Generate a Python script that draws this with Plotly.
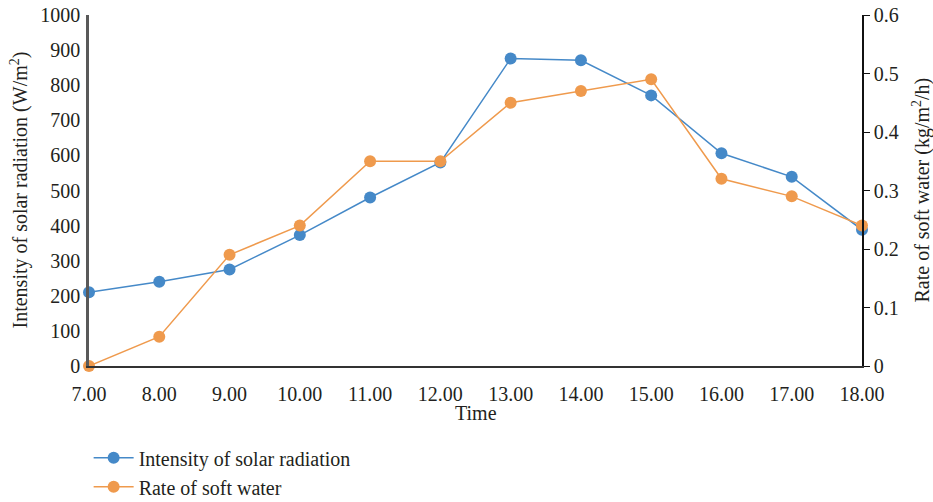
import plotly.graph_objects as go

hours = [7, 8, 9, 10, 11, 12, 13, 14, 15, 16, 17, 18]
hour_labels = ["7.00", "8.00", "9.00", "10.00", "11.00", "12.00",
               "13.00", "14.00", "15.00", "16.00", "17.00", "18.00"]
solar_radiation = [210, 240, 275, 373, 480, 580, 876, 871, 771, 606, 539, 388]
soft_water_rate = [0.0, 0.05, 0.19, 0.24, 0.35, 0.35, 0.45, 0.47, 0.49, 0.32, 0.29, 0.24]

blue = "#4589C8"
orange = "#EF9A4D"
text_color = "#231F20"
font_family = "Liberation Serif"
tick_size = 20
title_size = 20

fig = go.Figure()
fig.add_trace(go.Scatter(
    x=hours, y=solar_radiation, name="Intensity of solar radiation",
    mode="lines+markers", line=dict(color=blue, width=1.5),
    marker=dict(color=blue, size=12), cliponaxis=False, yaxis="y"))
fig.add_trace(go.Scatter(
    x=hours, y=soft_water_rate, name="Rate of soft water",
    mode="lines+markers", line=dict(color=orange, width=1.5),
    marker=dict(color=orange, size=12), cliponaxis=False, yaxis="y2"))

# axis titles placed as annotations so the plot area stays fixed
fig.add_annotation(text="Time", xref="paper", yref="paper", x=0.5, y=0,
                   yshift=-34, yanchor="top", showarrow=False,
                   font=dict(size=title_size))
fig.add_annotation(text="Intensity of solar radiation (W/m<sup>2</sup>)",
                   xref="paper", yref="paper", x=0, y=0.5, xshift=-70,
                   xanchor="center", textangle=-90, showarrow=False,
                   font=dict(size=title_size))
fig.add_annotation(text="Rate of soft water (kg/m<sup>2</sup>/h)",
                   xref="paper", yref="paper", x=1, y=0.5, xshift=59,
                   xanchor="center", textangle=-90, showarrow=False,
                   font=dict(size=title_size))

fig.update_layout(
    width=933, height=502,
    margin=dict(l=89, r=71, t=15, b=136, autoexpand=False),
    plot_bgcolor="white", paper_bgcolor="white",
    font=dict(family=font_family, size=title_size, color=text_color),
    xaxis=dict(
        range=[7, 18], tickvals=hours, ticktext=hour_labels,
        showgrid=False, zeroline=False, showline=True, linecolor="#333333",
        linewidth=2, ticks="", ticklabelstandoff=9,
        tickfont=dict(size=tick_size), automargin=False),
    yaxis=dict(
        range=[0, 1000], dtick=100, showgrid=False, zeroline=False,
        showline=True, linecolor="#595959", linewidth=2.5, ticks="",
        ticklabelstandoff=2, tickfont=dict(size=tick_size), automargin=False),
    yaxis2=dict(
        range=[0, 0.6], dtick=0.1, overlaying="y", side="right",
        showgrid=False, zeroline=False, showline=True, linecolor="#111111",
        linewidth=1.5, ticks="outside", ticklen=6, tickcolor="#111111",
        tickformat="~g", tickfont=dict(size=tick_size), automargin=False),
    legend=dict(
        orientation="v", xref="container", x=0.095, xanchor="left",
        yref="container", y=0.127, yanchor="top",
        font=dict(size=title_size), tracegroupgap=0, itemwidth=40,
        bgcolor="rgba(0,0,0,0)"),
    showlegend=True,
)

fig.write_html("out.html")
